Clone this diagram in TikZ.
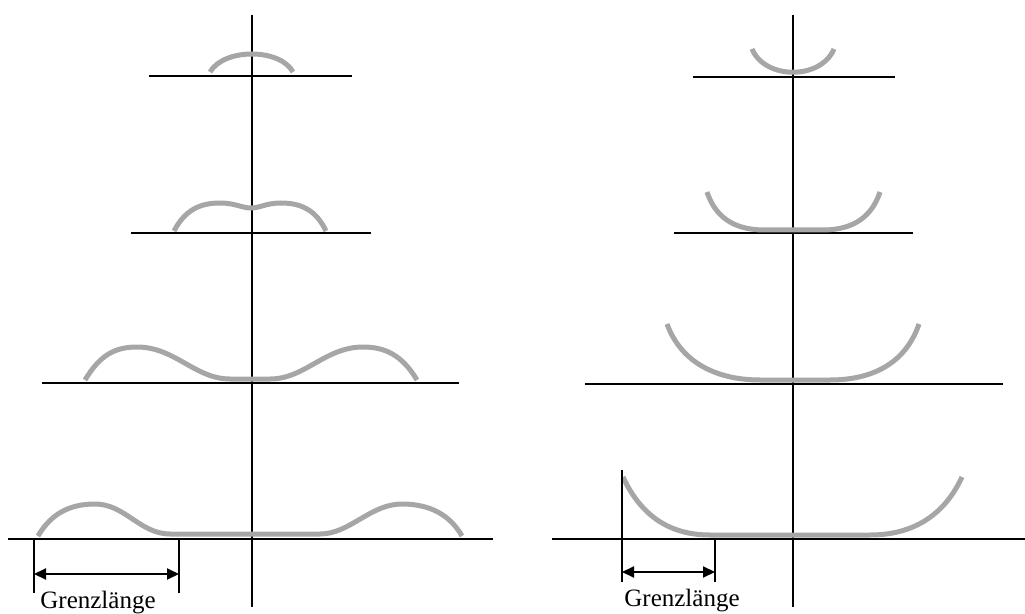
\documentclass[tikz,border=0pt]{standalone}
\usepackage{fontspec}
\setmainfont{Liberation Serif}
\usetikzlibrary{arrows.meta}
\begin{document}
\begin{tikzpicture}[x=1bp,y=-1bp,
  axis/.style={black,line width=2bp},
  profile/.style={gray!70,line width=5bp},
  dimline/.style={black,line width=2bp,{Triangle[length=12bp,width=11bp]}-{Triangle[length=12bp,width=11bp]}},
  label/.style={font=\fontsize{25bp}{29bp}\selectfont,anchor=base,inner sep=0pt}]
\useasboundingbox (0,0) rectangle (1025,614);
% ---------- left panel ----------
\coordinate (LvT) at (252,15); \coordinate (LvB) at (252,607);
\coordinate (L1a) at (149,76); \coordinate (L1b) at (352,76);
\coordinate (L2a) at (131,233); \coordinate (L2b) at (371,233);
\coordinate (L3a) at (42,383); \coordinate (L3b) at (459,383);
\coordinate (L4a) at (8,539); \coordinate (L4b) at (493,539);
\draw[axis] (LvT) -- (LvB);
\draw[axis] (L1a) -- (L1b);
\draw[axis] (L2a) -- (L2b);
\draw[axis] (L3a) -- (L3b);
\draw[axis] (L4a) -- (L4b);
\draw[profile] (210,72) .. controls (224,48) and (280,48) .. (293,72);
\draw[profile] (174,231) .. controls (185,210) and (200,203) .. (220,203)
  .. controls (235,203) and (242,208) .. (251,208)
  .. controls (260,208) and (266,203) .. (281,203)
  .. controls (301,203) and (316,210) .. (326,231);
\draw[profile] (85,380) .. controls (100,355) and (115,347) .. (137,347)
  .. controls (175,347) and (195,379) .. (230,379) -- (270,379)
  .. controls (305,379) and (325,347) .. (363,347)
  .. controls (385,347) and (402,355) .. (417,380);
\draw[profile] (38,536) .. controls (52,512) and (72,504) .. (95,504)
  .. controls (125,504) and (140,534) .. (170,534) -- (320,534)
  .. controls (350,534) and (370,504) .. (402,504)
  .. controls (430,504) and (450,515) .. (462,536);
\coordinate (LtA1) at (34,539); \coordinate (LtA2) at (34,593);
\coordinate (LtB1) at (179,539); \coordinate (LtB2) at (179,593);
\draw[axis] (LtA1) -- (LtA2);
\draw[axis] (LtB1) -- (LtB2);
\coordinate (LdA) at (34,574); \coordinate (LdB) at (179,574);
\draw[dimline] (LdA) -- (LdB);
\node[label] (Lgl) at (98,608) {Grenzlänge};
% ---------- right panel ----------
\coordinate (RvT) at (793,15); \coordinate (RvB) at (793,607);
\coordinate (R1a) at (693,77); \coordinate (R1b) at (895,77);
\coordinate (R2a) at (674,233); \coordinate (R2b) at (913,233);
\coordinate (R3a) at (585,384); \coordinate (R3b) at (1003,384);
\coordinate (R4a) at (552,539); \coordinate (R4b) at (1025,539);
\draw[axis] (RvT) -- (RvB);
\draw[axis] (R1a) -- (R1b);
\draw[axis] (R2a) -- (R2b);
\draw[axis] (R3a) -- (R3b);
\draw[axis] (R4a) -- (R4b);
\draw[profile] (752,49) .. controls (765,80) and (821,80) .. (834,49);
\draw[profile] (707,192) .. controls (717,222) and (740,230) .. (765,230) -- (822,230)
  .. controls (847,230) and (870,222) .. (880,192);
\draw[profile] (667,324) .. controls (682,365) and (720,380) .. (760,380) -- (830,380)
  .. controls (870,380) and (905,365) .. (919,324);
\draw[profile] (623,477) .. controls (642,518) and (672,535) .. (710,535) -- (870,535)
  .. controls (910,535) and (943,518) .. (962,477);
\coordinate (RtA1) at (622,470); \coordinate (RtA2) at (622,582);
\coordinate (RtB1) at (715,539); \coordinate (RtB2) at (715,582);
\draw[axis] (RtA1) -- (RtA2);
\draw[axis] (RtB1) -- (RtB2);
\coordinate (RdA) at (622,572); \coordinate (RdB) at (715,572);
\draw[dimline] (RdA) -- (RdB);
\node[label] (Rgl) at (682,606) {Grenzlänge};
\end{tikzpicture}
\end{document}
